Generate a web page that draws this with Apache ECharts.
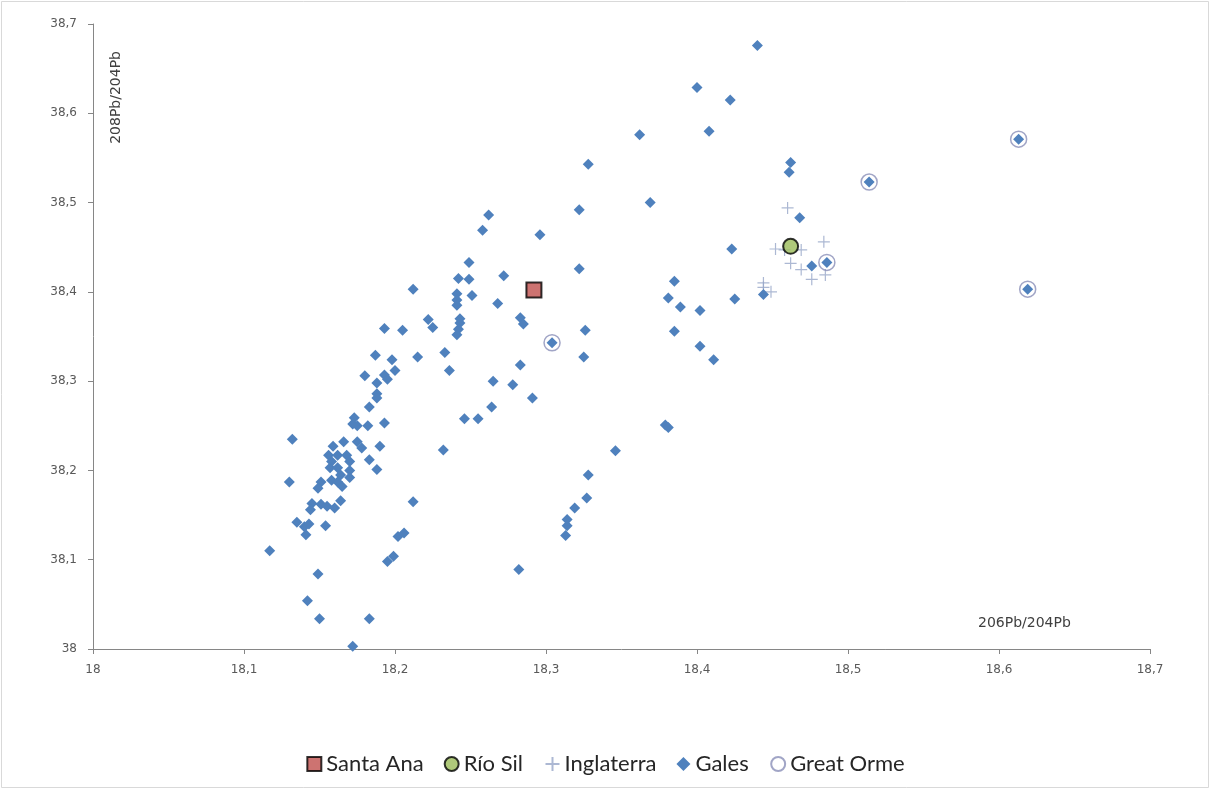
<!DOCTYPE html>
<html>
<head>
<meta charset="utf-8">
<title>208Pb/204Pb vs 206Pb/204Pb</title>
<script src="https://cdn.jsdelivr.net/npm/echarts@6/dist/echarts.min.js"></script>
<style>
  html, body { margin: 0; padding: 0; background: #ffffff; }
  #chart { width: 1211px; height: 792px; }
</style>
</head>
<body>
<div id="chart"></div>
<script>
// Lead isotope ratios: [206Pb/204Pb, 208Pb/204Pb]
const santaAna = [[18.292, 38.402]];
const rioSil = [[18.462, 38.451]];
const inglaterra = [
  [18.460, 38.494], [18.452, 38.448], [18.458, 38.447], [18.469, 38.447],
  [18.462, 38.432], [18.469, 38.425], [18.476, 38.414], [18.485, 38.419],
  [18.484, 38.456], [18.444, 38.410], [18.449, 38.400], [18.444, 38.405]
];
const gales = [
  [18.440, 38.676], [18.400, 38.629], [18.422, 38.615], [18.362, 38.576], [18.408, 38.580],
  [18.462, 38.545], [18.461, 38.534], [18.328, 38.543], [18.369, 38.500], [18.322, 38.492],
  [18.262, 38.486], [18.468, 38.483], [18.258, 38.469], [18.296, 38.464], [18.423, 38.448],
  [18.476, 38.429], [18.486, 38.433], [18.514, 38.523], [18.613, 38.571], [18.619, 38.403],
  [18.385, 38.412], [18.381, 38.393], [18.389, 38.383], [18.402, 38.379], [18.425, 38.392],
  [18.444, 38.397], [18.385, 38.356], [18.402, 38.339], [18.411, 38.324], [18.379, 38.251],
  [18.381, 38.248], [18.346, 38.222], [18.322, 38.426], [18.249, 38.433], [18.242, 38.415],
  [18.249, 38.414], [18.272, 38.418], [18.212, 38.403], [18.241, 38.398], [18.241, 38.391],
  [18.241, 38.385], [18.251, 38.396], [18.268, 38.387], [18.283, 38.371], [18.285, 38.364],
  [18.222, 38.369], [18.225, 38.360], [18.243, 38.370], [18.243, 38.365], [18.242, 38.358],
  [18.241, 38.352], [18.205, 38.357], [18.326, 38.357], [18.304, 38.343], [18.325, 38.327],
  [18.233, 38.332], [18.215, 38.327], [18.236, 38.312], [18.283, 38.318], [18.265, 38.300],
  [18.278, 38.296], [18.291, 38.281], [18.264, 38.271], [18.246, 38.258], [18.255, 38.258],
  [18.232, 38.223], [18.193, 38.359], [18.187, 38.329], [18.198, 38.324], [18.200, 38.312],
  [18.180, 38.306], [18.193, 38.307], [18.195, 38.302], [18.188, 38.298], [18.188, 38.286],
  [18.188, 38.281], [18.183, 38.271], [18.173, 38.259], [18.172, 38.252], [18.175, 38.250],
  [18.182, 38.250], [18.193, 38.253], [18.132, 38.235], [18.159, 38.227], [18.166, 38.232],
  [18.175, 38.232], [18.178, 38.225], [18.190, 38.227], [18.156, 38.217], [18.162, 38.217],
  [18.168, 38.217], [18.158, 38.210], [18.170, 38.210], [18.183, 38.212], [18.188, 38.201],
  [18.157, 38.203], [18.162, 38.203], [18.170, 38.200], [18.164, 38.195], [18.158, 38.189],
  [18.170, 38.192], [18.151, 38.187], [18.149, 38.180], [18.162, 38.187], [18.165, 38.182],
  [18.145, 38.163], [18.151, 38.162], [18.155, 38.160], [18.160, 38.158], [18.164, 38.166],
  [18.144, 38.156], [18.135, 38.142], [18.140, 38.137], [18.143, 38.140], [18.154, 38.138],
  [18.141, 38.128], [18.130, 38.187], [18.212, 38.165], [18.202, 38.126], [18.206, 38.130],
  [18.195, 38.098], [18.199, 38.104], [18.117, 38.110], [18.149, 38.084], [18.142, 38.054],
  [18.150, 38.034], [18.183, 38.034], [18.172, 38.003], [18.328, 38.195], [18.327, 38.169],
  [18.319, 38.158], [18.314, 38.145], [18.314, 38.138], [18.313, 38.127], [18.282, 38.089]
];
const greatOrme = [
  [18.304, 38.343], [18.486, 38.433], [18.514, 38.523], [18.613, 38.571], [18.619, 38.403]
];

const xTicks = { min: 18, max: 18.7, step: 0.1 };
const yTicks = { min: 38, max: 38.7, step: 0.1 };
const xTitle = '206Pb/204Pb';
const yTitle = '208Pb/204Pb';

// decimal comma labels: 18, 18,1, 18,2 ...
function commaLabel(v) {
  const r = Math.round(v * 10) / 10;
  return Number.isInteger(r) ? String(r) : r.toFixed(1).replace('.', ',');
}

const axisGrey = '#868686';
const labelGrey = '#595959';

const chart = echarts.init(document.getElementById('chart'), null, { renderer: 'canvas' });

chart.setOption({
  backgroundColor: '#ffffff',
  animation: false,
  grid: { left: 93, right: 61, top: 24, bottom: 143, containLabel: false },
  xAxis: {
    type: 'value',
    min: xTicks.min, max: xTicks.max, interval: xTicks.step,
    axisLine: { show: true, onZero: false, lineStyle: { color: axisGrey, width: 1 } },
    axisTick: { show: true, length: 5, lineStyle: { color: axisGrey } },
    splitLine: { show: false },
    axisLabel: { formatter: commaLabel, margin: 15, color: labelGrey, fontSize: 12, fontFamily: 'DejaVu Sans' }
  },
  yAxis: {
    type: 'value',
    min: yTicks.min, max: yTicks.max, interval: yTicks.step,
    axisLine: { show: true, onZero: false, lineStyle: { color: axisGrey, width: 1 } },
    axisTick: { show: true, length: 5, lineStyle: { color: axisGrey } },
    splitLine: { show: false },
    axisLabel: { formatter: commaLabel, margin: 16, color: labelGrey, fontSize: 12, fontFamily: 'DejaVu Sans' }
  },
  legend: {
    left: 'center',
    top: 748,
    itemWidth: 14,
    itemHeight: 14,
    itemGap: 20,
    textStyle: { fontSize: 22, color: '#262626', fontFamily: 'Lato' },
    data: ['Santa Ana', 'Río Sil', 'Inglaterra', 'Gales', 'Great Orme']
  },
  graphic: [
    {
      type: 'rect', silent: true, z: -10,
      shape: { x: 1.5, y: 1.5, width: 1207, height: 786 },
      style: { fill: 'none', stroke: '#d9d9d9', lineWidth: 1 }
    },
    {
      type: 'text', left: 109, top: 51, rotation: Math.PI / 2,
      style: { text: yTitle, fontSize: 14, fill: '#404040', fontFamily: 'DejaVu Sans' }
    },
    {
      type: 'text', left: 978, top: 616,
      style: { text: xTitle, fontSize: 14, fill: '#404040', fontFamily: 'DejaVu Sans' }
    }
  ],
  series: [
    {
      name: 'Inglaterra', type: 'scatter', data: inglaterra, z: 2,
      symbol: 'path://M6,0 L6,12 M0,6 L12,6', symbolSize: 12,
      itemStyle: { color: 'none', borderColor: '#97a6c8', borderWidth: 1.2 }
    },
    {
      name: 'Gales', type: 'scatter', data: gales, z: 3,
      symbol: 'diamond', symbolSize: 11,
      itemStyle: { color: '#4f81bd', opacity: 1 }
    },
    {
      name: 'Great Orme', type: 'scatter', data: greatOrme, z: 4,
      symbol: 'circle', symbolSize: 16,
      itemStyle: { color: 'none', borderColor: '#8a8fb8', borderWidth: 1.5 }
    },
    {
      name: 'Santa Ana', type: 'scatter', data: santaAna, z: 5,
      symbol: 'rect', symbolSize: 15,
      itemStyle: { color: '#c0504d', borderColor: '#000000', borderWidth: 2 }
    },
    {
      name: 'Río Sil', type: 'scatter', data: rioSil, z: 5,
      symbol: 'circle', symbolSize: 15,
      itemStyle: { color: '#9bbb59', borderColor: '#000000', borderWidth: 2 }
    }
  ]
});
</script>
</body>
</html>
